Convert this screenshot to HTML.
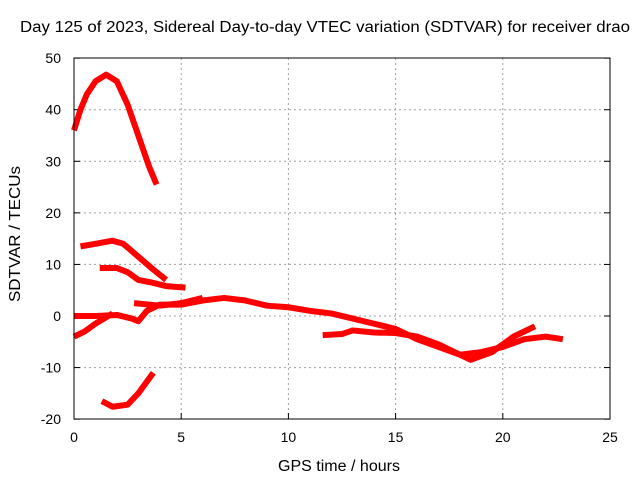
<!DOCTYPE html>
<html><head><meta charset="utf-8"><style>
body{margin:0;background:#fff;font-family:"Liberation Sans",sans-serif}
svg text{font-family:"Liberation Sans",sans-serif;font-size:14px;fill:#000}
</style></head><body>
<svg id="c" width="640" height="480">
<text x="20" y="32" textLength="610" lengthAdjust="spacingAndGlyphs" style="font-size:15.5px">Day 125 of 2023, Sidereal Day-to-day VTEC variation (SDTVAR) for receiver drao</text>
<text x="278" y="471" textLength="122" lengthAdjust="spacingAndGlyphs" style="font-size:15.5px">GPS time / hours</text>
<text transform="translate(20,302) rotate(-90)" textLength="136" lengthAdjust="spacingAndGlyphs" style="font-size:15.5px">SDTVAR / TECUs</text>
<g id="grid"></g><g id="ticks"></g><g id="series"></g>
<rect x="74" y="58" width="536" height="361" fill="none" stroke="#000" stroke-width="1"/>
</svg>
<script>
const xTicks=[0,5,10,15,20,25];
const yTicks=[-20,-10,0,10,20,30,40,50];
const s1=[[0,36],[0.3,40],[0.6,43],[1,45.5],[1.5,46.8],[2,45.5],[2.5,41],[3,35],[3.5,29],[3.85,25.5]];
const s2=[[0.3,13.5],[1,14],[1.8,14.6],[2.3,14],[3,11.5],[3.7,9],[4.3,7]];
const s3=[[1.2,9.3],[2,9.3],[2.5,8.5],[3,7],[3.6,6.5],[4.3,5.8],[5.2,5.5]];
const s4=[[1.3,-16.5],[1.8,-17.6],[2.5,-17.2],[3,-15],[3.7,-11]];
const s5=[[0,0],[1,0],[2,0.2],[2.7,-0.5],[3,-1],[3.4,1],[4,2.2],[5,2.2],[6,3],[7,3.5],[8,3],[9,2],[10,1.7],[11,1],[12,0.5],[13,-0.5],[14,-1.5],[15,-2.5],[16,-4.5],[17,-6],[18,-7.5],[19,-7],[20,-6],[21,-4.5],[22,-4],[22.8,-4.5]];
const s6=[[0,-4],[0.5,-3],[1,-1.5],[1.8,0.5]];
const s7=[[2.8,2.5],[4,2],[5,2.5],[6,3.5]];
const s8=[[11.6,-3.7],[12.5,-3.5],[13,-2.8],[14,-3.2],[15,-3.3],[16,-4],[17,-5.5],[18,-7.5],[18.5,-8.5],[19.5,-7],[20.5,-4],[21.5,-2]];
const seriesList=[s1,s2,s3,s4,s5,s6,s7,s8];
const X=h=>74+h*536/25, Y=v=>316-v*361/70;
const NS="http://www.w3.org/2000/svg";
const g=document.getElementById('grid'),t=document.getElementById('ticks'),sg=document.getElementById('series');
function mk(tag,at,par){const e=document.createElementNS(NS,tag);for(const k in at)e.setAttribute(k,at[k]);par.appendChild(e);return e;}
xTicks.forEach(v=>{
 if(v>0&&v<25){const l=mk('line',{x1:X(v),x2:X(v),y1:58,y2:419,stroke:'#a0a0a0','stroke-dasharray':'2,3'},g);
 
 }
 const tk=mk('line',{x1:X(v),x2:X(v),y1:419,y2:413,stroke:'#000'},t);
 
 
 const tx=mk('text',{x:X(v),y:442,'text-anchor':'middle'},t);tx.textContent=v;
 
 
});
yTicks.forEach(v=>{
 if(v>-20&&v<50){const l=mk('line',{x1:74,x2:610,y1:Y(v),y2:Y(v),stroke:'#a0a0a0','stroke-dasharray':'2,3'},g);
 
 }
 const tk=mk('line',{x1:74,x2:80,y1:Y(v),y2:Y(v),stroke:'#000'},t);
 
 
 const tk2=mk('line',{x1:604,x2:610,y1:Y(v),y2:Y(v),stroke:'#000'},t);
 
 
 const tx=mk('text',{x:61,y:Y(v)+5,'text-anchor':'end'},t);tx.textContent=v;
 
 
});
seriesList.forEach(s=>{
 const p=mk('polyline',{points:s.map(d=>X(d[0])+','+Y(d[1])).join(' '),fill:'none',stroke:'#ff0000','stroke-width':6,'stroke-linejoin':'round'},sg);
 
 
});
</script>
</body></html>
